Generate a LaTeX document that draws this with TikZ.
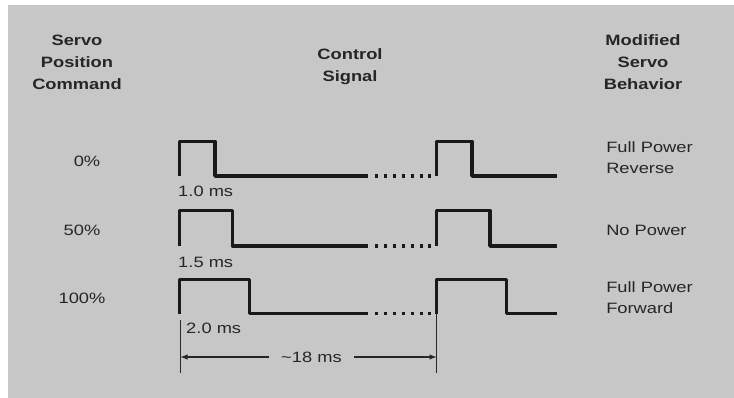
\documentclass[tikz,border=0pt]{standalone}
\usepackage{fontspec}
\setmainfont{Liberation Sans}
\usepackage{tikz}
\usetikzlibrary{positioning}
\definecolor{panelgray}{RGB}{199,199,199}
\definecolor{inkgray}{RGB}{38,38,38}

\begin{document}
\begin{tikzpicture}[x=1pt, y=-1pt,
        head/.style={font=\bfseries\fontsize{15}{22}\selectfont, align=center, text=inkgray, xscale=1.22, inner sep=0pt},
        lab/.style={font=\fontsize{15}{21.5}\selectfont, align=left, text=inkgray, xscale=1.22, inner sep=0pt},
        wave/.style={line width=3.4pt, line join=round, draw=black!90},
        dots/.style={line width=3.4pt, draw=black!90, dash pattern=on 3pt off 5.9pt},
        dim/.style={line width=1.4pt, draw=inkgray}]
        \useasboundingbox (0,0) rectangle (734,398);
        \fill[white] (0,0) rectangle (734,398);
        \fill[panelgray] (8,5) rectangle (734,398);

        % column headings
        \node[head] (cmd) at (77,62.5) {Servo\\Position\\Command};
        \node[head] (sig) at (350,67) {Control\\Signal};
        \node[head] (beh) at (643,62.5) {Modified\\Servo\\Behavior};

        % position commands
        \node[lab] (p0) at (87,161) {0\%};
        \node[lab] (p50) at (82,230) {50\%};
        \node[lab] (p100) at (82,298) {100\%};

        % behaviour
        \node[lab, anchor=west] (rev) at (606,157.5) {Full Power\\Reverse};
        \node[lab, anchor=west] (nop) at (606,230) {No Power};
        \node[lab, anchor=west] (fwd) at (606,297.5) {Full Power\\Forward};

        % 0% signal
        \draw[wave] (179.5,176) -- (179.5,141.5) -- (215,141.5) -- (215,176) -- (368,176);
        \draw[dots] (375,176) -- (432,176);
        \draw[wave] (436.5,176) -- (436.5,141.5) -- (472,141.5) -- (472,176) -- (557,176);
        \node[lab, anchor=west] (w1) at (178,191.5) {1.0 ms};

        % 50% signal
        \draw[wave] (179.5,246) -- (179.5,210.5) -- (232.5,210.5) -- (232.5,246) -- (368,246);
        \draw[dots] (375,246) -- (432,246);
        \draw[wave] (436.5,246) -- (436.5,210.5) -- (490,210.5) -- (490,246) -- (557,246);
        \node[lab, anchor=west] (w2) at (178,262) {1.5 ms};

        % 100% signal
        \draw[wave] (179.5,313.5) -- (179.5,279.5) -- (249.5,279.5) -- (249.5,313.5) -- (368,313.5);
        \draw[dots] (375,313.5) -- (432,313.5);
        \draw[wave] (436.5,313.5) -- (436.5,279.5) -- (506.5,279.5) -- (506.5,313.5) -- (557,313.5);
        \node[lab, anchor=west] (w3) at (186,328) {2.0 ms};

        % period
        \coordinate (pa) at (180.5,320);
        \coordinate (pb) at (436.5,314);
        \coordinate (pa2) at (180.5,373);
        \coordinate (pb2) at (436.5,373);
        \draw[dim] (pa) -- (pa2);
        \draw[dim] (pb) -- (pb2);
        \node[lab, inner xsep=10pt] (per) at (311.5,357) {\textasciitilde 18 ms};
        \draw[dim, -latex] (per.west) -- (pa |- per.west);
        \draw[dim, -latex] (per.east) -- (pb |- per.east);
    \end{tikzpicture}
\end{document}
